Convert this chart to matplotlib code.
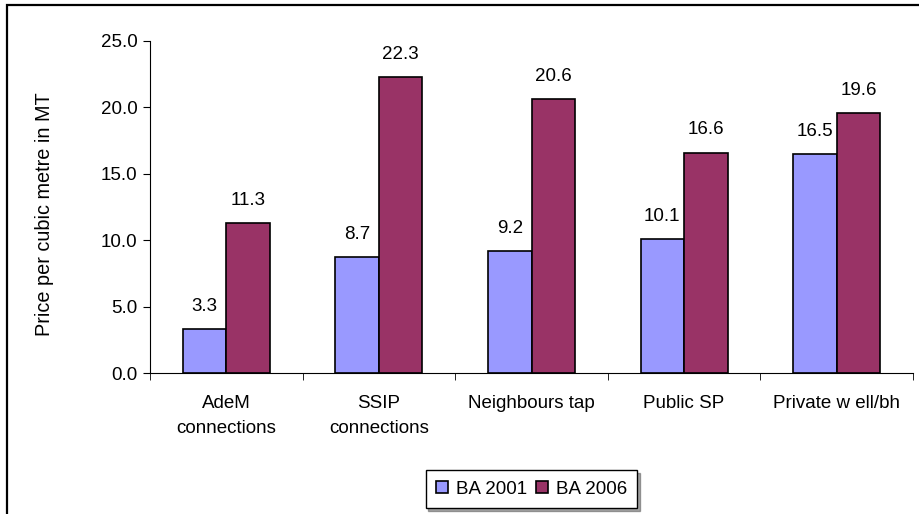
#!/usr/bin/env python3
"""Price per cubic metre of water by source, BA 2001 vs BA 2006."""

import matplotlib

matplotlib.use("Agg")
import matplotlib.pyplot as plt
import numpy as np
from matplotlib.patches import Rectangle

categories = ["AdeM\nconnections", "SSIP\nconnections", "Neighbours tap", "Public SP", "Private w ell/bh"]
ba_2001 = [3.3, 8.7, 9.2, 10.1, 16.5]
ba_2006 = [11.3, 22.3, 20.6, 16.6, 19.6]
series_names = ["BA 2001", "BA 2006"]
yticks = [0, 5, 10, 15, 20, 25]

plt.rcParams["font.family"] = ["Liberation Sans", "DejaVu Sans"]
fs = 13.5

fig = plt.figure(figsize=(9.19, 5.14), dpi=100)
ax = fig.add_axes([150 / 919, 1 - 373 / 514, (913 - 150) / 919, (373 - 41) / 514])

# outer chart border (right and bottom edges fall outside the picture)
fig.patches.append(Rectangle((7 / 919, -0.1), 1.2, 1 - 5 / 514 + 0.1, transform=fig.transFigure,
                             fill=False, edgecolor="black", linewidth=1.6))

x = np.arange(len(categories))
width = 0.285
b1 = ax.bar(x - width / 2, ba_2001, width, color="#9999FF", edgecolor="black", linewidth=1.2, label=series_names[0])
b2 = ax.bar(x + width / 2, ba_2006, width, color="#993366", edgecolor="black", linewidth=1.2, label=series_names[1])

for bars, vals in ((b1, ba_2001), (b2, ba_2006)):
    for rect, v in zip(bars, vals):
        ax.annotate(f"{v:.1f}", (rect.get_x() + rect.get_width() / 2, v), xytext=(0, 13),
                    textcoords="offset points", ha="center", va="baseline", fontsize=fs)

ax.set_xlim(-0.5, len(categories) - 0.5)
ax.set_ylim(0, 25)
ax.set_yticks(yticks, [f"{t:.1f}" for t in yticks], fontsize=fs)
ax.set_xticks(x, categories, fontsize=fs, linespacing=1.6)
ax.set_xticks(np.arange(len(categories) + 1) - 0.5, minor=True)
ax.tick_params(axis="x", which="major", length=0, pad=16)
ax.tick_params(axis="x", which="minor", length=5, direction="out")
ax.tick_params(axis="y", length=5, direction="out", pad=4)
ax.set_ylabel("Price per cubic metre in MT", fontsize=14.3)
ax.yaxis.set_label_coords((54 - 150) / 763, (373 - 214) / 332)

for side in ("top", "right"):
    ax.spines[side].set_visible(False)
for side in ("left", "bottom"):
    ax.spines[side].set_color("black")

leg = ax.legend(loc="center", bbox_to_anchor=(0.5, (373 - 489) / 332), ncol=2, fontsize=fs,
                frameon=True, fancybox=False, shadow=True, handlelength=0.65, handleheight=0.65,
                handletextpad=0.4, columnspacing=0.5, borderpad=0.55)
leg.get_frame().set_edgecolor("black")
leg.get_frame().set_linewidth(1.0)
for h in leg.legend_handles:
    h.set_linewidth(1.2)

fig.savefig("out.png", dpi=100)
